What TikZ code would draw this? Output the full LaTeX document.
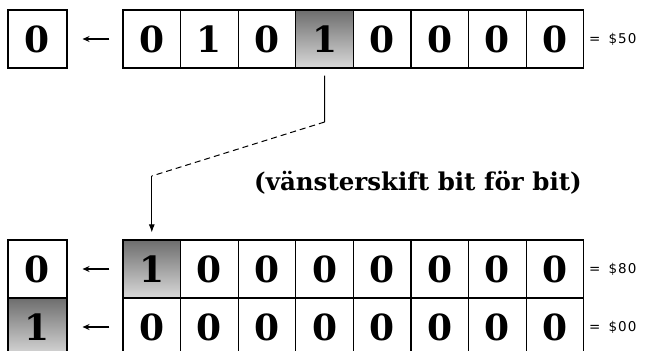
\documentclass[tikz,border=0pt]{standalone}
\usepackage{fontspec}
\setmainfont{DejaVu Serif}
\newfontfamily\valfont[LetterSpace=8]{DejaVu Sans}
\usepackage{tikz}
\usetikzlibrary{arrows.meta, positioning}
\tikzset{
    bitcell/.style={draw, line width=1.1pt, minimum width=57.6pt, minimum height=58pt, inner sep=0pt, font=\fontsize{36}{36}\selectfont\bfseries},
    setbit/.style={bitcell, top color=black!57, bottom color=black!15},
    carry/.style={bitcell, minimum width=59pt},
    shiftarrow/.style={line width=1.1pt, -{Stealth[length=7pt, width=6pt]}},
    vallabel/.style={anchor=west, inner sep=0pt, font=\valfont\fontsize{13.5}{13.5}\selectfont}
}

\begin{document}
\begin{tikzpicture}[x=1pt, y=-1pt]
    \useasboundingbox (0,0) rectangle (646,351);
    % before the shift
    \foreach \b [count=\i] in {0,1,0,1,0,0,0,0} {
        \ifnum\i=4
            \node[setbit] (t\i) at (123+57.6*\i-28.8, 39) {\b};
        \else
            \node[bitcell] (t\i) at (123+57.6*\i-28.8, 39) {\b};
        \fi
    }
    \node[carry] (ct) at (37.5, 39) {0};
    \node[vallabel] (vt) at (589, 39) {=\hspace{8pt}\$50};
    % after the shift
    \foreach \b [count=\i] in {1,0,0,0,0,0,0,0} {
        \ifnum\i=1
            \node[setbit] (m\i) at (123+57.6*\i-28.8, 269) {\b};
        \else
            \node[bitcell] (m\i) at (123+57.6*\i-28.8, 269) {\b};
        \fi
        \node[bitcell] (b\i) at (123+57.6*\i-28.8, 327) {0};
    }
    \node[carry] (cm) at (37.5, 269) {0};
    \node[setbit, minimum width=59pt] (cb) at (37.5, 327) {1};
    \node[vallabel] (vm) at (589, 269) {=\hspace{8pt}\$80};
    \node[vallabel] (vb) at (589, 327) {=\hspace{8pt}\$00};
    % arrows into the carry
    \draw[shiftarrow] ([xshift=-13pt]t1.west) -- ([xshift=15pt]ct.east);
    \draw[shiftarrow] ([xshift=-13pt]m1.west) -- ([xshift=15pt]cm.east);
    \draw[shiftarrow] ([xshift=-13pt]b1.west) -- ([xshift=15pt]cb.east);
    % where the set bit goes
    \coordinate (bend1) at (324.6, 122);
    \coordinate (bend2) at (151.8, 176);
    \draw[line width=1pt] ([yshift=-7pt]t4.south) -- (bend1);
    \draw[line width=1pt, dash pattern=on 6pt off 4pt] (bend1) -- (bend2);
    \draw[line width=1pt, -{Latex[length=8pt, width=6pt]}] (bend2) -- ([yshift=7pt]m1.north);
    \node[font=\fontsize{24.5}{24.5}\selectfont\bfseries] (note) at (418, 183) {(vänsterskift bit för bit)};
\end{tikzpicture}
\end{document}
